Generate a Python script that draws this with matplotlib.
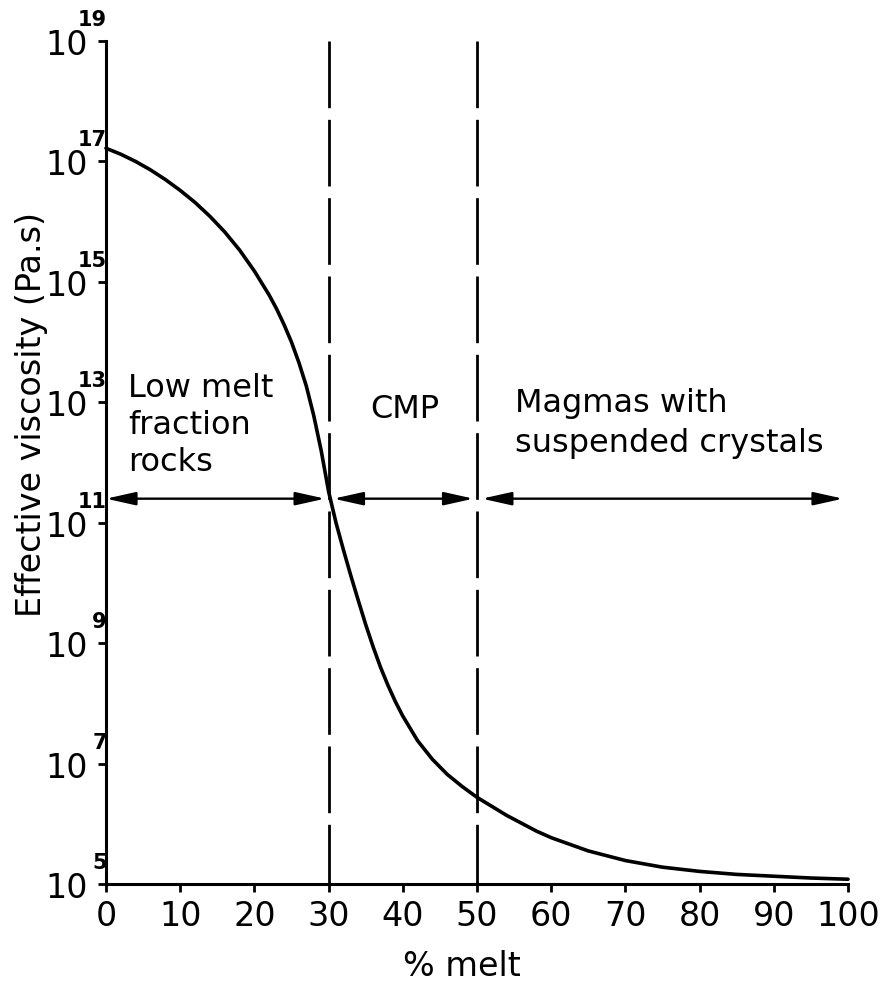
import matplotlib
matplotlib.use("Agg")
import matplotlib.pyplot as plt
import matplotlib.transforms as mtransforms
from matplotlib.ticker import NullLocator
import numpy as np

# effective viscosity (log10 Pa.s) against melt percentage
melt_pct = [0, 2, 4, 6, 8, 10, 12, 14, 16, 18, 20, 22, 23, 24, 25, 26, 27, 28, 29,
            30, 31, 32, 33, 34, 35, 36, 37, 38, 39, 40, 42, 44, 46, 48, 50, 52, 54,
            56, 58, 60, 65, 70, 75, 80, 85, 90, 95, 100]
log_visc = [17.22, 17.12, 17.00, 16.86, 16.70, 16.52, 16.32, 16.09, 15.83, 15.53,
            15.18, 14.78, 14.55, 14.29, 14.00, 13.66, 13.27, 12.78, 12.20, 11.52,
            11.00, 10.55, 10.12, 9.71, 9.31, 8.94, 8.60, 8.30, 8.03, 7.79, 7.38,
            7.07, 6.82, 6.62, 6.44, 6.29, 6.14, 6.01, 5.88, 5.77, 5.55, 5.39, 5.28,
            5.21, 5.16, 5.13, 5.10, 5.08]

decade_exps = [5, 7, 9, 11, 13, 15, 17, 19]
melt_ticks = [0, 10, 20, 30, 40, 50, 60, 70, 80, 90, 100]

# regime limits (% melt) and the viscosity level of the regime arrows
region_edges = [0, 30, 50, 100]
arrow_log = 11.4

plt.rcParams["font.family"] = ["DejaVu Sans"]

fig = plt.figure(figsize=(8.92, 9.87), dpi=100)
ax = fig.add_axes([0.1188, 0.1033, 0.8319, 0.8541])
ax.set_yscale("log")
ax.set_xlim(0, 100)
ax.set_ylim(1e5, 1e19)

ax.plot(melt_pct, 10.0 ** np.array(log_visc), color="black", lw=2.6,
        solid_capstyle="round", solid_joinstyle="round", clip_on=False, zorder=3)

# dashed regime boundaries, drawn top-down so the dash pattern starts at the top
for b in region_edges[1:-1]:
    ax.plot([b, b], [1e19, 1e5], color="black", lw=2.0,
            linestyle=(0, (24, 4.2)), clip_on=False)

# double-headed arrows spanning each regime
n_spans = len(region_edges) - 1
for i, (lo, hi) in enumerate(zip(region_edges[:-1], region_edges[1:])):
    ax.annotate("", xy=(hi, 10.0 ** arrow_log), xytext=(lo, 10.0 ** arrow_log),
                arrowprops=dict(arrowstyle="<|-|>,head_length=1.8,head_width=0.4",
                                color="black", lw=1.7, mutation_scale=10,
                                shrinkA=0 if i == 0 else 3.5,
                                shrinkB=3.6 if i == n_spans - 1 else 2.5))

# multi-line labels are anchored on the baseline of their last line
txt = dict(fontsize=23, color="black", va="baseline")
ax.text(3.0, 10 ** 11.87, "Low melt\nfraction\nrocks", ha="left", linespacing=1.25, **txt)
ax.text(40.3, 10 ** 12.75, "CMP", ha="center", **txt)
ax.text(55.1, 10 ** 12.2, "Magmas with\nsuspended crystals", ha="left",
        linespacing=1.35, **txt)

for s in ("top", "right"):
    ax.spines[s].set_visible(False)
for s in ("left", "bottom"):
    ax.spines[s].set_linewidth(2.2)

ax.yaxis.set_minor_locator(NullLocator())
ax.set_yticks([10.0 ** e for e in decade_exps])
ax.set_yticklabels(["10"] * len(decade_exps))
ax.set_xticks(melt_ticks)
ax.set_xticklabels([str(t) for t in melt_ticks])
ax.tick_params(axis="both", direction="out", length=6, width=2, labelsize=24)
ax.tick_params(axis="x", pad=5)
ax.tick_params(axis="y", pad=7)

# exponents sit above and to the right of each "10"
ytrans = mtransforms.blended_transform_factory(ax.transAxes, ax.transData)
exp_trans = mtransforms.offset_copy(ytrans, fig=fig, x=1, y=22, units="dots")
for e in decade_exps:
    ax.text(0, 10.0 ** e, str(e), transform=exp_trans, ha="right", va="center",
            fontsize=15, fontweight="bold", clip_on=False)

ax.set_xlabel("% melt", fontsize=24)
ax.xaxis.set_label_coords(0.48, -0.077)
fig.text(32 / 892, 1 - 415 / 987, "Effective viscosity (Pa.s)", rotation=90,
         ha="center", va="center", fontsize=24)

fig.savefig("out.png", dpi=100)
